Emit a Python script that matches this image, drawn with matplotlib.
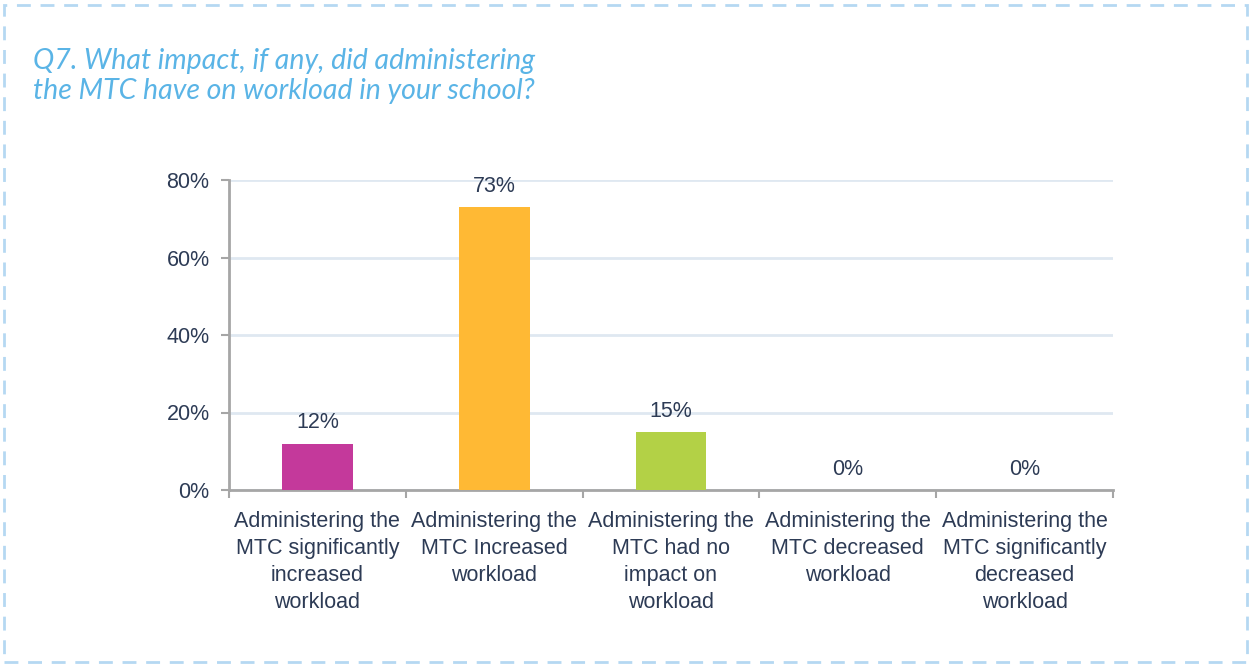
import matplotlib
matplotlib.use("Agg")
import matplotlib.pyplot as plt
from matplotlib.patches import Rectangle

# --- data ---
categories = [
    "Administering the\nMTC significantly\nincreased\nworkload",
    "Administering the\nMTC Increased\nworkload",
    "Administering the\nMTC had no\nimpact on\nworkload",
    "Administering the\nMTC decreased\nworkload",
    "Administering the\nMTC significantly\ndecreased\nworkload",
]
values = [0.12, 0.73, 0.15, 0.0, 0.0]
value_labels = ["12%", "73%", "15%", "0%", "0%"]
y_ticks = [0.0, 0.2, 0.4, 0.6, 0.8]
y_tick_labels = ["0%", "20%", "40%", "60%", "80%"]
bar_colors = ["#c4399b", "#ffb934", "#b3d146", "#b3d146", "#b3d146"]

title = "Q7. What impact, if any, did administering\nthe MTC have on workload in your school?"

text_color = "#2d3b55"
spine_color = "#a6a6a6"
grid_color = "#dfe8f1"

plt.rcParams["font.family"] = ["Liberation Sans", "DejaVu Sans"]

fig = plt.figure(figsize=(12.51, 6.66), dpi=100)
ax = fig.add_axes([229 / 1251, 1 - 490 / 666, (1113 - 229) / 1251, (490 - 180) / 666])

x = list(range(len(categories)))
ax.bar(x, values, width=0.4, color=bar_colors, zorder=3)

for xi, v, lab in zip(x, values, value_labels):
    ax.annotate(lab, (xi, v), xytext=(0, 15), textcoords="offset points",
                ha="center", va="center", fontsize=15.5, color=text_color)

ax.set_xlim(-0.5, len(categories) - 0.5)
ax.set_ylim(0, 0.8)
ax.set_yticks(y_ticks)
ax.set_yticklabels(y_tick_labels, fontsize=15.5, color=text_color)
ax.set_xticks(x)
ax.set_xticklabels(categories, fontsize=15.5, color=text_color, linespacing=1.38, va="top")
ax.tick_params(axis="x", length=0, pad=15)
ax.tick_params(axis="y", length=6, width=1.5, color=spine_color, pad=8)

# boundary ticks between categories
ax.set_xticks([i - 0.5 for i in range(len(categories) + 1)], minor=True)
ax.tick_params(axis="x", which="minor", length=6, width=1.5, color=spine_color)

ax.grid(axis="y", color=grid_color, linewidth=2, zorder=0)
for side in ["top", "right"]:
    ax.spines[side].set_visible(False)
for side in ["left", "bottom"]:
    ax.spines[side].set_color(spine_color)
    ax.spines[side].set_linewidth(2)

fig.text(33 / 1251, 1 - 48 / 666, title, fontsize=20.5, style="italic",
         color="#5ab4e6", family=["Lato", "DejaVu Sans"],
         va="top", ha="left", linespacing=1.2)

# dashed frame
frame = Rectangle((4 / 1251, 4 / 666), 1243 / 1251, 657 / 666, transform=fig.transFigure,
                  fill=False, edgecolor="#b5d8f2", linewidth=2, linestyle=(0, (5, 3.5)))
fig.add_artist(frame)

fig.savefig("out.png", dpi=100, facecolor="white")
